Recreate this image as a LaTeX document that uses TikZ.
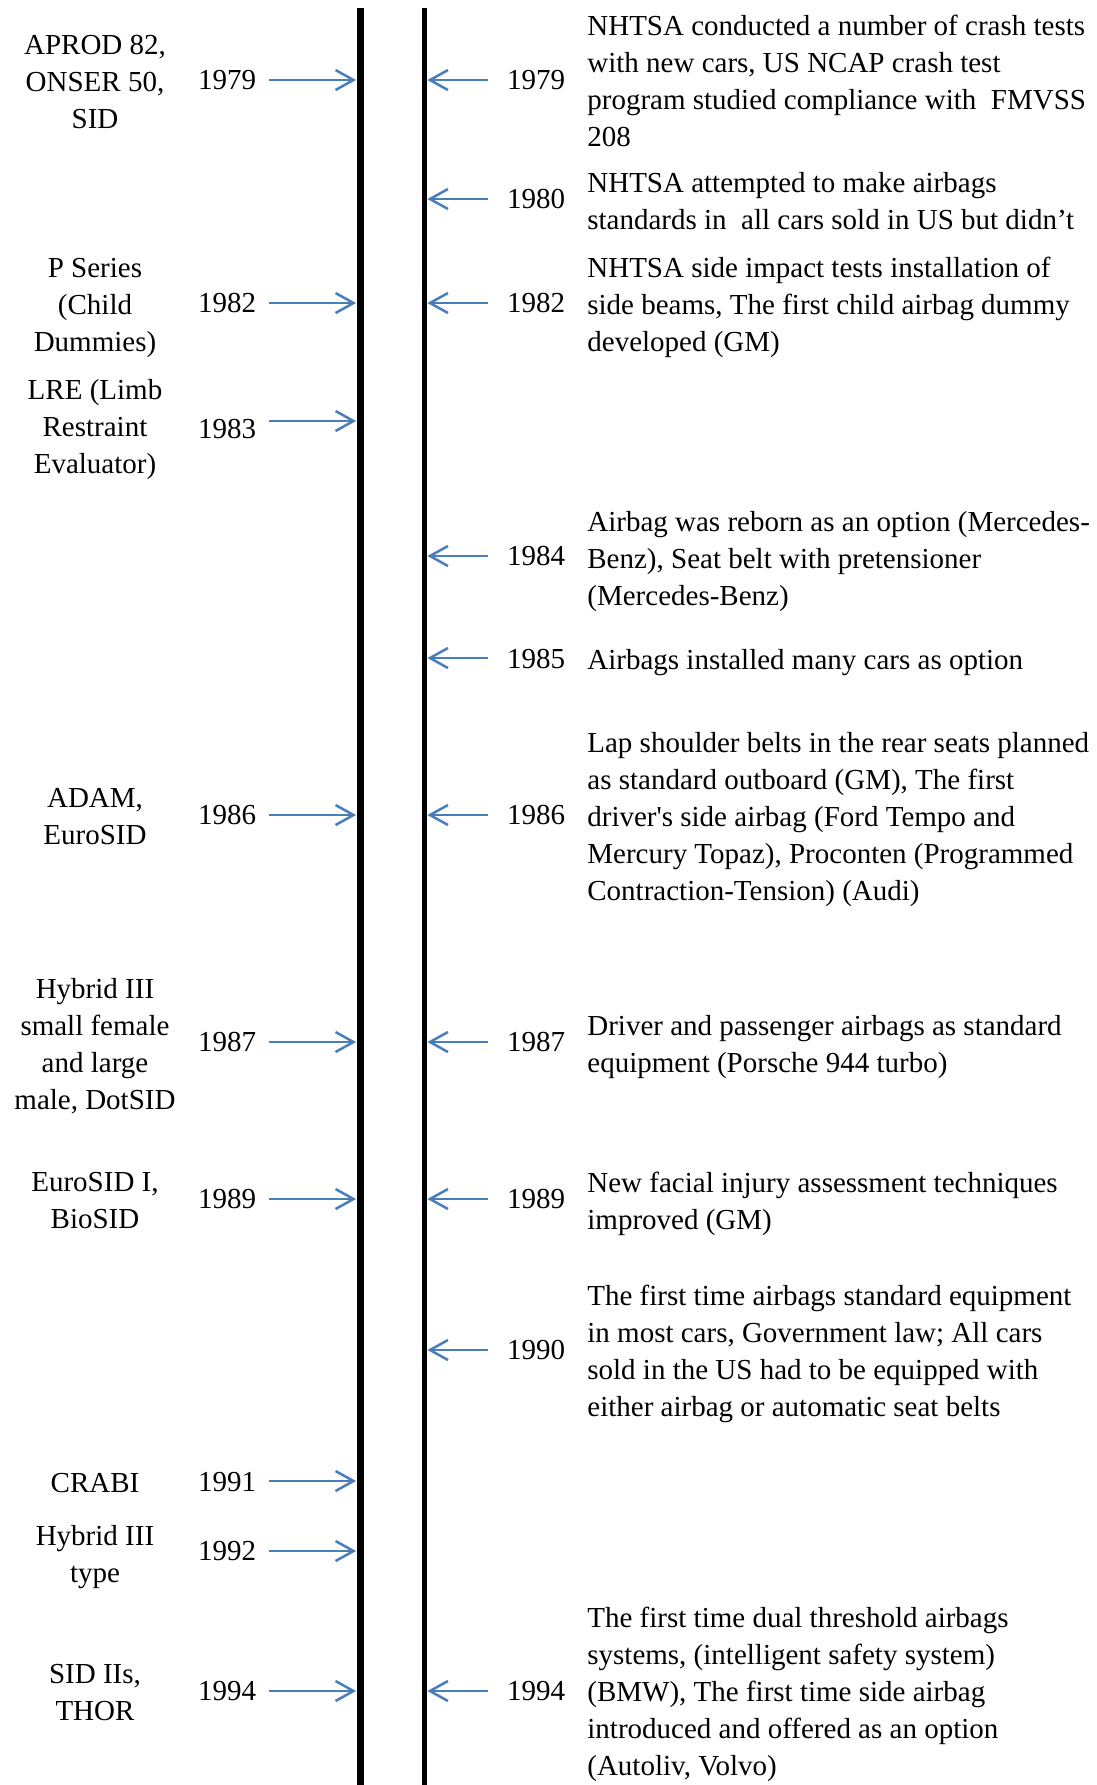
\documentclass[tikz,border=0pt]{standalone}
\usepackage{fontspec}
\setmainfont{Liberation Serif}
\usetikzlibrary{arrows.meta}
\definecolor{arrblue}{RGB}{74,126,187}
\begin{document}
\begin{tikzpicture}[x=0.5pt,y=-0.5pt,
  every node/.style={inner sep=0pt, font=\fontsize{14.5pt}{18.5pt}\selectfont},
  rtxt/.style={anchor=north west, align=left},
  ltxt/.style={anchor=north, align=center},
  yr/.style={anchor=center},
  vline/.style={fill=black, draw=none, minimum height=888.5pt},
  arr/.style={draw=arrblue, line width=1.25pt, -{Straight Barb[length=9pt,width=10pt]}}
]
\fill[white] (0,0) rectangle (1097,1785);
\useasboundingbox (0,0) rectangle (1097,1785);

% timeline bars
\node[vline, minimum width=3.75pt] (L) at (360.25,896.5) {};
\node[vline, minimum width=2.75pt] (R) at (424.25,896.5) {};

% ---------- left side ----------
\node[ltxt] (l1979) at (95,28) {\strut APROD 82,\\ONSER 50,\\SID};
\node[yr] (yl1979) at (227,80) {1979};
\coordinate (al1979) at (269,80);
\draw[arr] (al1979) -- (al1979 -| L.west);

\node[ltxt] (l1982) at (95,251) {\strut P Series\\(Child\\Dummies)};
\node[yr] (yl1982) at (227,303) {1982};
\coordinate (al1982) at (269,303);
\draw[arr] (al1982) -- (al1982 -| L.west);

\node[ltxt] (l1983) at (95,373) {\strut LRE (Limb\\Restraint\\Evaluator)};
\node[yr] (yl1983) at (227,429) {1983};
\coordinate (al1983) at (269,421);
\draw[arr] (al1983) -- (al1983 -| L.west);

\node[ltxt] (l1986) at (95,781) {\strut ADAM,\\EuroSID};
\node[yr] (yl1986) at (227,815) {1986};
\coordinate (al1986) at (269,815);
\draw[arr] (al1986) -- (al1986 -| L.west);

\node[ltxt] (l1987) at (95,972) {\strut Hybrid III\\small female\\and large\\male, DotSID};
\node[yr] (yl1987) at (227,1042) {1987};
\coordinate (al1987) at (269,1042);
\draw[arr] (al1987) -- (al1987 -| L.west);

\node[ltxt] (l1989) at (95,1165) {\strut EuroSID I,\\BioSID};
\node[yr] (yl1989) at (227,1199) {1989};
\coordinate (al1989) at (269,1199);
\draw[arr] (al1989) -- (al1989 -| L.west);

\node[ltxt] (l1991) at (95,1466) {\strut CRABI};
\node[yr] (yl1991) at (227,1482) {1991};
\coordinate (al1991) at (269,1481);
\draw[arr] (al1991) -- (al1991 -| L.west);

\node[ltxt] (l1992) at (95,1519) {\strut Hybrid III\\type};
\node[yr] (yl1992) at (227,1551) {1992};
\coordinate (al1992) at (269,1551);
\draw[arr] (al1992) -- (al1992 -| L.west);

\node[ltxt] (l1994) at (95,1657) {\strut SID IIs,\\THOR};
\node[yr] (yl1994) at (227,1691) {1994};
\coordinate (al1994) at (269,1691);
\draw[arr] (al1994) -- (al1994 -| L.west);

% ---------- right side ----------
\node[yr] (yr1979) at (536,80) {1979};
\coordinate (ar1979) at (488,80);
\draw[arr] (ar1979) -- (ar1979 -| R.east);
\node[rtxt] (r1979) at (587,9) {\strut NHTSA conducted a number of crash tests\\with new cars, US NCAP crash test\\program studied compliance with~ FMVSS\\208};

\node[yr] (yr1980) at (536,199) {1980};
\coordinate (ar1980) at (488,199);
\draw[arr] (ar1980) -- (ar1980 -| R.east);
\node[rtxt] (r1980) at (587,166) {\strut NHTSA attempted to make airbags\\standards in~ all cars sold in US but didn’t};

\node[yr] (yr1982) at (536,303) {1982};
\coordinate (ar1982) at (488,303);
\draw[arr] (ar1982) -- (ar1982 -| R.east);
\node[rtxt] (r1982) at (587,251) {\strut NHTSA side impact tests installation of\\side beams, The first child airbag dummy\\developed (GM)};

\node[yr] (yr1984) at (536,556) {1984};
\coordinate (ar1984) at (488,556);
\draw[arr] (ar1984) -- (ar1984 -| R.east);
\node[rtxt] (r1984) at (587,505) {\strut Airbag was reborn as an option (Mercedes-\\Benz), Seat belt with pretensioner\\(Mercedes-Benz)};

\node[yr] (yr1985) at (536,659) {1985};
\coordinate (ar1985) at (488,658);
\draw[arr] (ar1985) -- (ar1985 -| R.east);
\node[rtxt] (r1985) at (587,643) {\strut Airbags installed many cars as option};

\node[yr] (yr1986) at (536,815) {1986};
\coordinate (ar1986) at (488,815);
\draw[arr] (ar1986) -- (ar1986 -| R.east);
\node[rtxt] (r1986) at (587,726) {\strut Lap shoulder belts in the rear seats planned\\as standard outboard (GM), The first\\driver\textquotesingle s side airbag (Ford Tempo and\\Mercury Topaz), Proconten (Programmed\\Contraction-Tension) (Audi)};

\node[yr] (yr1987) at (536,1042) {1987};
\coordinate (ar1987) at (488,1042);
\draw[arr] (ar1987) -- (ar1987 -| R.east);
\node[rtxt] (r1987) at (587,1009) {\strut Driver and passenger airbags as standard\\equipment (Porsche 944 turbo)};

\node[yr] (yr1989) at (536,1199) {1989};
\coordinate (ar1989) at (488,1199);
\draw[arr] (ar1989) -- (ar1989 -| R.east);
\node[rtxt] (r1989) at (587,1166) {\strut New facial injury assessment techniques\\improved (GM)};

\node[yr] (yr1990) at (536,1350) {1990};
\coordinate (ar1990) at (488,1350);
\draw[arr] (ar1990) -- (ar1990 -| R.east);
\node[rtxt] (r1990) at (587,1279) {\strut The first time airbags standard equipment\\in most cars, Government law; All cars\\sold in the US had to be equipped with\\either airbag or automatic seat belts};

\node[yr] (yr1994) at (536,1691) {1994};
\coordinate (ar1994) at (488,1691);
\draw[arr] (ar1994) -- (ar1994 -| R.east);
\node[rtxt] (r1994) at (587,1601) {\strut The first time dual threshold airbags\\systems, (intelligent safety system)\\(BMW), The first time side airbag\\introduced and offered as an option\\(Autoliv, Volvo)};
\end{tikzpicture}
\end{document}
